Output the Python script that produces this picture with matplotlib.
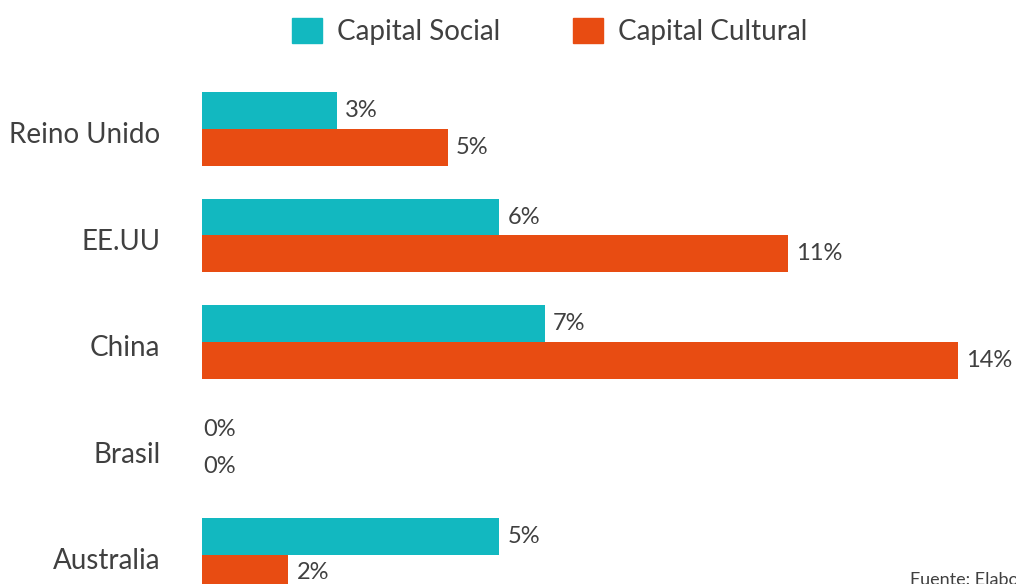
import matplotlib.pyplot as plt
import matplotlib.transforms as mtransforms
from matplotlib.patches import Patch
import numpy as np

# --- data ---
countries = ['Reino Unido', 'EE.UU', 'China', 'Brasil', 'Australia']
capital_social = [2.5, 5.5, 6.35, 0.0, 5.5]
capital_cultural = [4.55, 10.85, 14.0, 0.0, 1.6]
social_labels = ['3%', '6%', '7%', '0%', '5%']
cultural_labels = ['5%', '11%', '14%', '0%', '2%']

TEAL = '#12b8c0'
ORANGE = '#e84c12'
TEXT = '#404040'

plt.rcParams.update({
    'font.family': ['Lato', 'DejaVu Sans'],
    'font.size': 18,
    'text.color': TEXT,
})

W, H = 1016, 584
fig = plt.figure(figsize=(W / 100, H / 100), dpi=100)

# axes extends past the bottom/right edge: the reference is a crop
row = 106.4
left = 202 / W
width = 15 * 54 / W
top_px = 129 - 0.5 * row
bottom_px = top_px + 5 * row
ax = fig.add_axes([left, (H - bottom_px) / H, width, 5 * row / H])

y = np.arange(len(countries))
h = 0.345
ax.barh(y - h / 2, capital_social, height=h, color=TEAL, label='Capital Social')
ax.barh(y + h / 2, capital_cultural, height=h, color=ORANGE, label='Capital Cultural')

ax.set_xlim(0, 15)
ax.set_ylim(4.5, -0.5)
ax.set_yticks(y)
ax.set_yticklabels(countries, fontsize=20, color=TEXT)
ax.tick_params(axis='y', length=0, pad=30)
ax.set_xticks([])
for s in ax.spines.values():
    s.set_visible(False)

# country names sit a little below the bar pair centre
shift = mtransforms.ScaledTranslation(0, -4 / 100, fig.dpi_scale_trans)
for lbl in ax.get_yticklabels():
    lbl.set_transform(lbl.get_transform() + shift)

for i in range(len(countries)):
    off_s = 6 if capital_social[i] > 0 else 1
    off_c = 6 if capital_cultural[i] > 0 else 1
    ax.annotate(social_labels[i], (capital_social[i], y[i] - h / 2),
                xytext=(off_s, 0), textcoords='offset points',
                va='center', ha='left', fontsize=17, color=TEXT)
    ax.annotate(cultural_labels[i], (capital_cultural[i], y[i] + h / 2),
                xytext=(off_c, 0), textcoords='offset points',
                va='center', ha='left', fontsize=17, color=TEXT)

handles = [Patch(color=TEAL, label='Capital Social'),
           Patch(color=ORANGE, label='Capital Cultural')]
fig.legend(handles=handles, loc='upper center', bbox_to_anchor=(0.541, 1.012),
           ncol=2, frameon=False, fontsize=20, handlelength=1.08, handleheight=1.0,
           handletextpad=0.55, columnspacing=2.6)

fig.text(910 / W, (H - 572) / H, 'Fuente: Elaboración propia', fontsize=13,
         color=TEXT, ha='left', va='top')

fig.savefig('out.png', dpi=100)
